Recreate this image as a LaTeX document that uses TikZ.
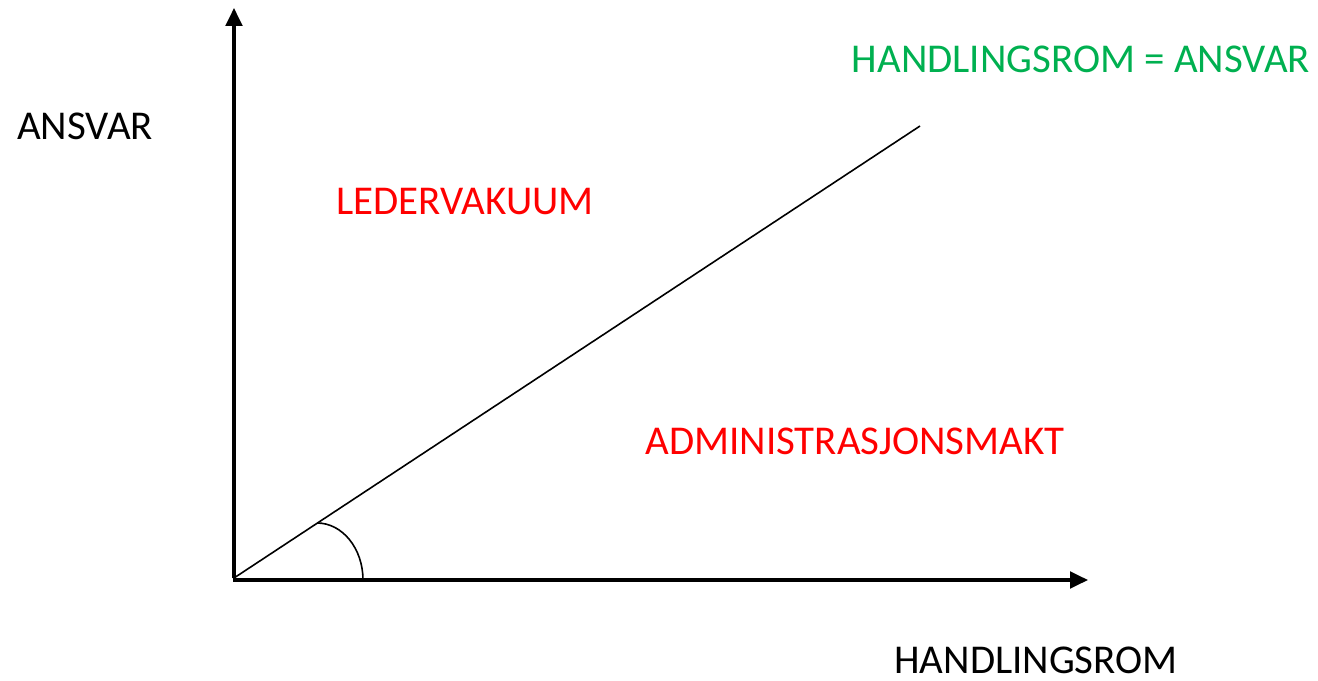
\documentclass[tikz,border=0pt]{standalone}
\usepackage{fontspec}
\setmainfont{Carlito}
\usetikzlibrary{arrows.meta}
\definecolor{officegreen}{RGB}{0,176,80}

\begin{document}
\begin{tikzpicture}[
	x=0.75pt, y=-0.75pt,
	axis/.style={line width=2.3pt, -{Triangle[length=13.5pt, width=12.5pt]}},
	label/.style={font=\fontsize{30.7}{36}\selectfont, inner sep=0pt},
	zone/.style={label, text=red}
]
	\useasboundingbox (0,0) rectangle (1318,681);

	% Axes
	\coordinate (origin) at (234,578);
	\coordinate (ytip) at (234,8);
	\coordinate (xtip) at (1088,580);
	\coordinate (diagend) at (920,126);
	\draw[axis] (origin) -- (ytip);
	\draw[axis] ([xshift=-1pt]origin |- xtip) -- (xtip);

	% Diagonal and angle
	\draw[line width=1.2pt] (origin) -- (diagend);
	\coordinate (arcstart) at (317,523);
	\draw[line width=1.2pt] (arcstart) arc[start angle=-90, end angle=0, x radius=46, y radius=57];

	% Labels
	\node[label] (yname) at (85,126) {ANSVAR};
	\node[label] (xname) at (1036,660) {HANDLINGSROM};
	\node[label, text=officegreen] (equal) at (1081,59) {HANDLINGSROM = ANSVAR};
	\node[zone] (vakuum) at (465,202) {LEDERVAKUUM};
	\node[zone] (admin) at (855,441) {ADMINISTRASJONSMAKT};
\end{tikzpicture}
\end{document}
